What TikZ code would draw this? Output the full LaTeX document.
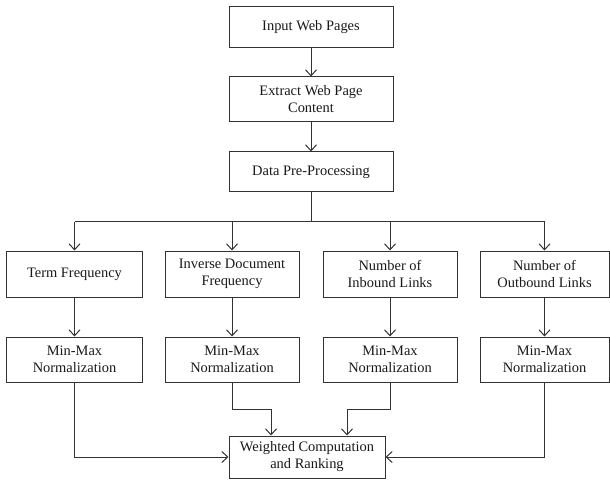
\documentclass[tikz,border=0pt]{standalone}
\usepackage{fontspec}
\setmainfont{Liberation Serif}
\usetikzlibrary{arrows.meta,positioning,calc}

\tikzset{
    blok/.style={draw=black!80, line width=1bp, align=center, inner sep=2pt, text=black!90},
    flow/.style={draw=black!80, line width=1bp, -{Straight Barb[length=6bp,width=11bp]}}
}

\begin{document}
\begin{tikzpicture}[x=1bp, y=-1bp, font=\fontsize{14.5}{17}\selectfont]
    \useasboundingbox (0,0) rectangle (610,480);

    % Main chain
    \node[blok, minimum width=164bp, minimum height=41bp] (input) at (311,27.5) {Input Web Pages};
    \node[blok, minimum width=164bp, minimum height=45bp] (extract) at (311,99.5) {Extract Web Page\\Content};
    \node[blok, minimum width=164bp, minimum height=40bp] (prep) at (311,172) {Data Pre-Processing};
    \draw[flow] (input.south) -- (extract.north);
    \draw[flow] (extract.south) -- (prep.north);

    \coordinate (split) at (311,222);

    \foreach \i/\x/\w/\txt in {1/74.5/135/{Term Frequency}, 2/232/134/{Inverse Document\\Frequency}, 3/390/134/{Number of\\Inbound Links}, 4/544.5/129/{Number of\\Outbound Links}} {
        \node[blok, minimum width=\w bp, minimum height=46bp] (feat\i) at (\x,274) {\txt};
        \node[blok, minimum width=\w bp, minimum height=45bp] (norm\i) at (\x,359.5) {Min-Max\\Normalization};
        \draw[flow] (split -| feat\i.north) -- (feat\i.north);
        \draw[flow] (feat\i.south) -- (norm\i.north);
    }
    \draw[draw=black!80, line width=1bp] (prep.south) -- (split);
    \draw[draw=black!80, line width=1bp] (split -| feat1.north) -- (split -| feat4.north);

    % Ranking
    \node[blok, minimum width=156bp, minimum height=42bp] (rank) at (307,457) {Weighted Computation\\and Ranking};
    \coordinate (j2) at (271,409);
    \coordinate (j3) at (347,409);
    \draw[flow] (norm1.south) |- (rank.west);
    \draw[flow] (norm4.south) |- (rank.east);
    \draw[flow] (norm2.south) |- (j2) -- (j2 |- rank.north);
    \draw[flow] (norm3.south) |- (j3) -- (j3 |- rank.north);
\end{tikzpicture}
\end{document}
